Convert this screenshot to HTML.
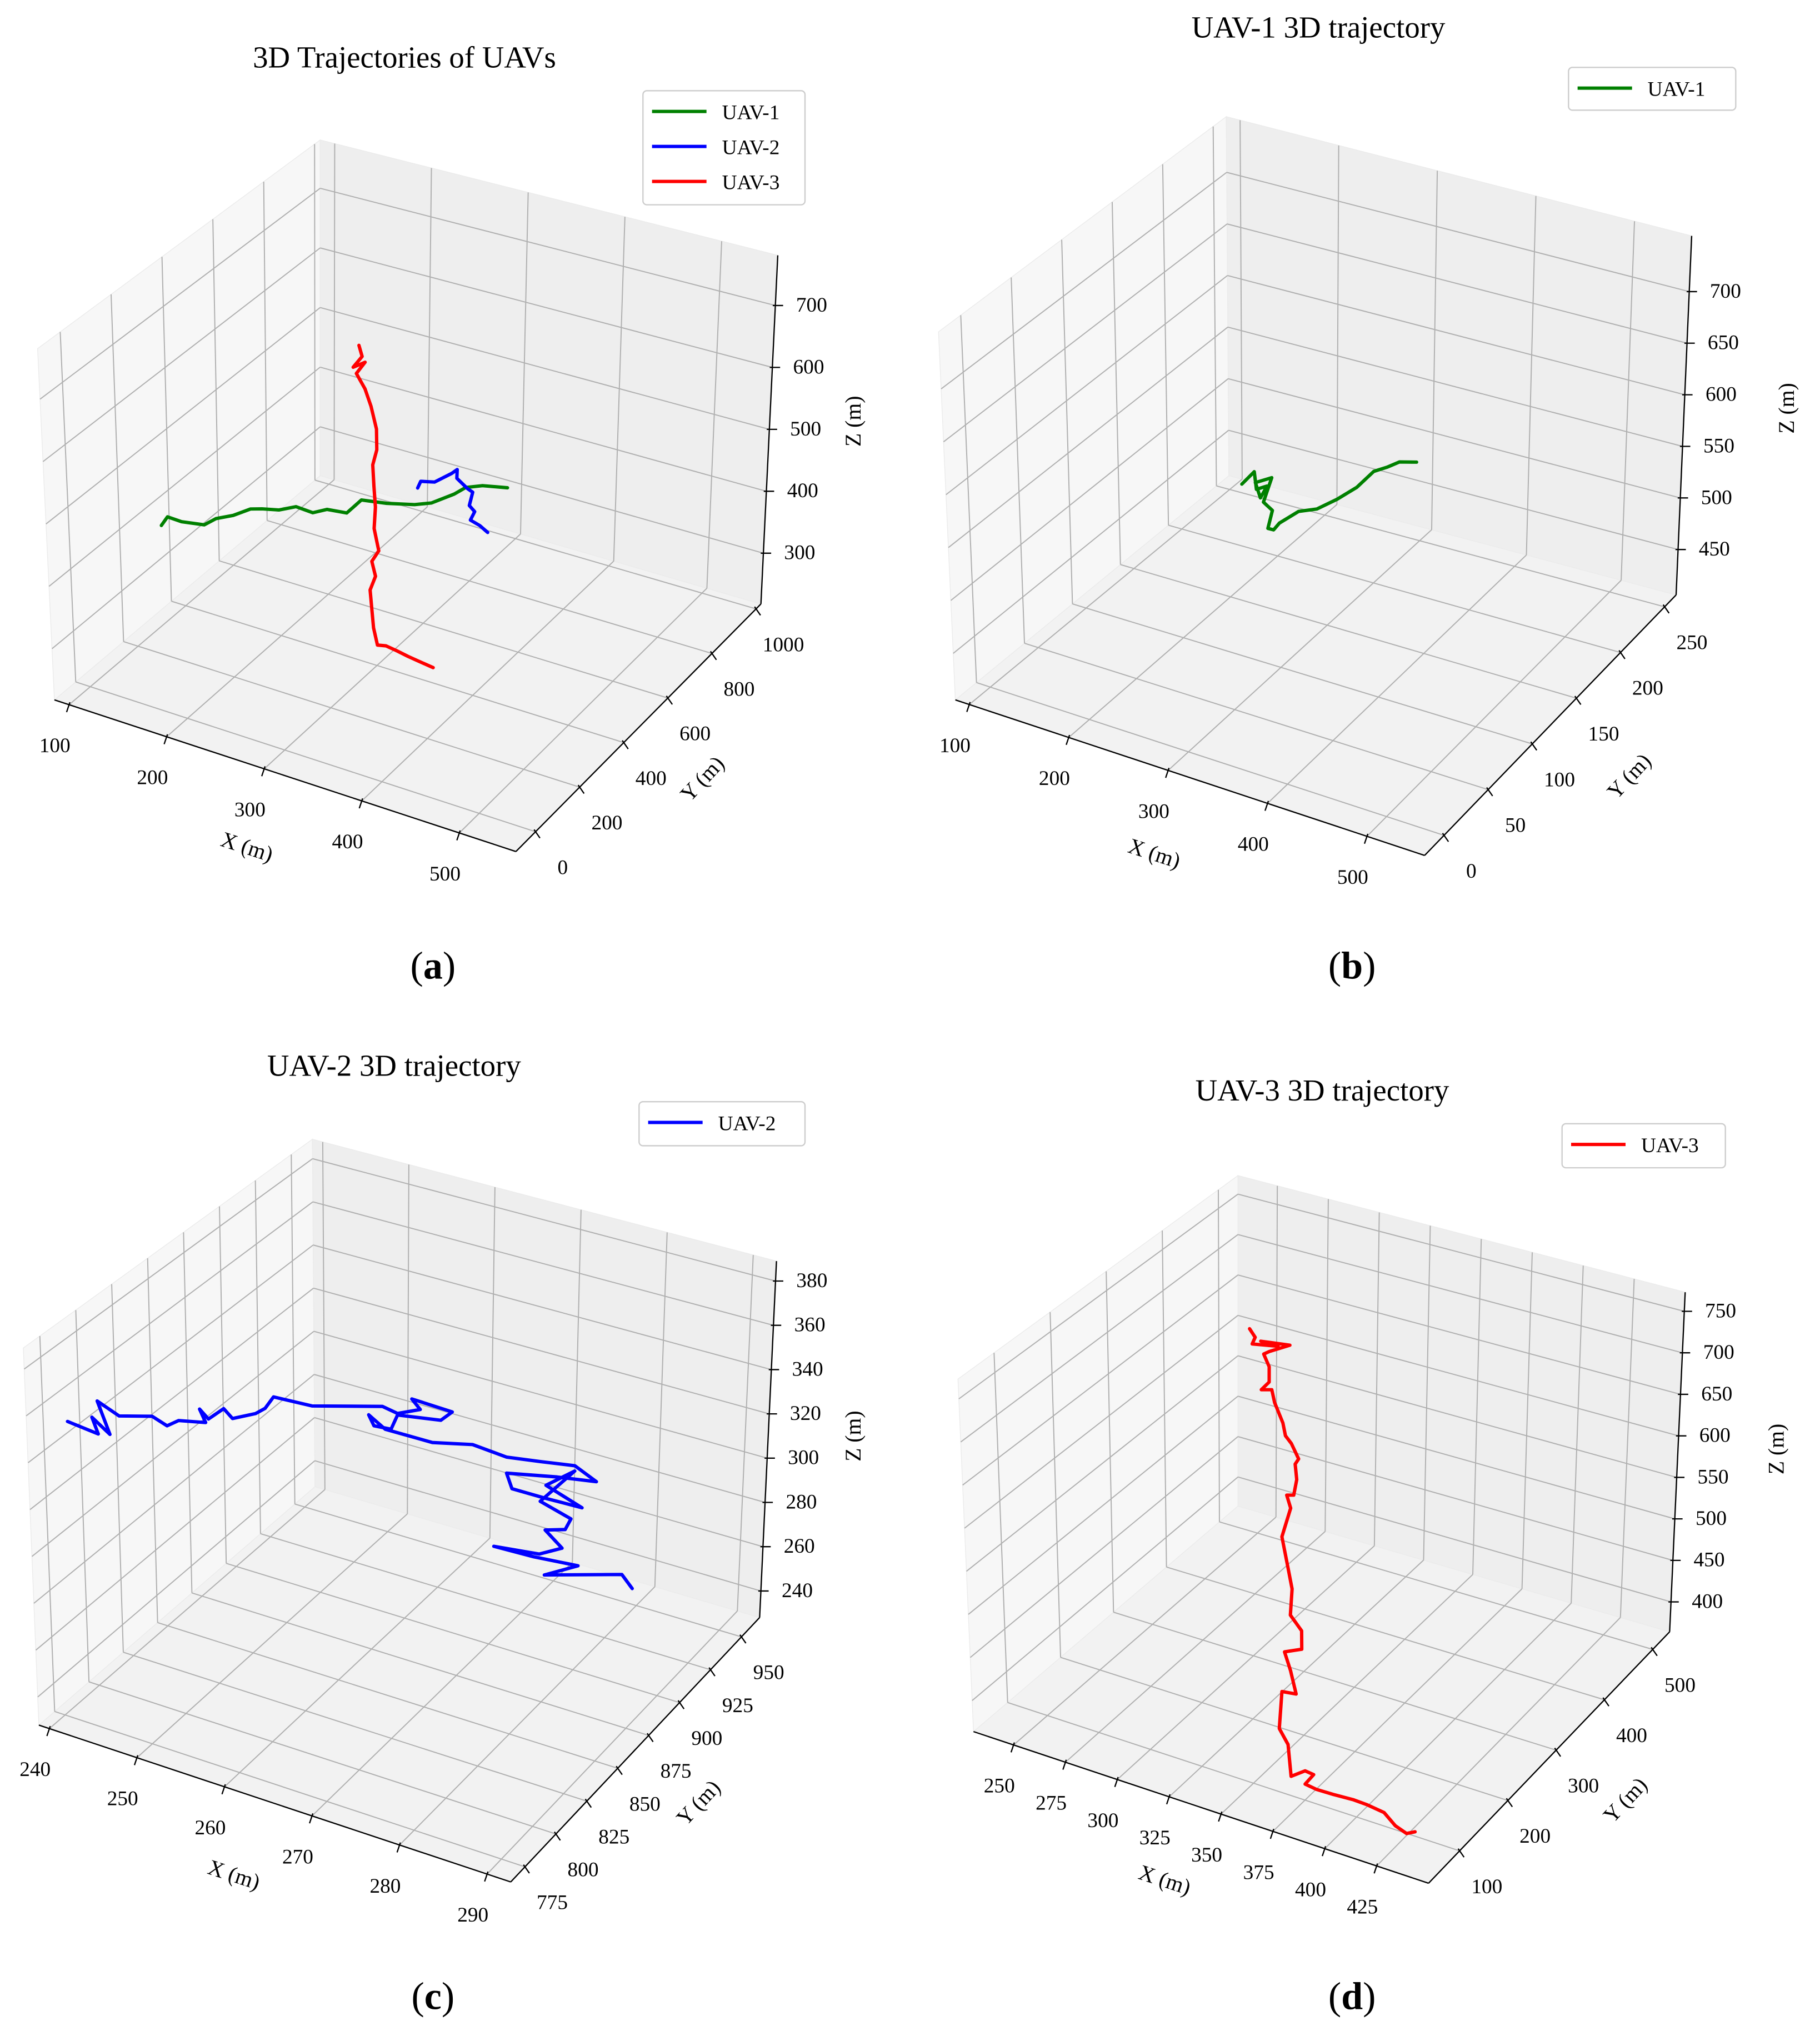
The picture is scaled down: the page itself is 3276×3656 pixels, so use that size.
<!DOCTYPE html>
<html><head><meta charset="utf-8"><title>UAV 3D trajectories</title>
<style>
html,body{margin:0;padding:0;background:#fff;}
svg{display:block;}
text{font-family:"Liberation Serif","DejaVu Serif",serif;fill:#000;}
</style></head>
<body>
<svg id="chart" xmlns="http://www.w3.org/2000/svg" width="3276" height="3656" viewBox="0 0 1404 1567" preserveAspectRatio="none">
<rect x="0" y="0" width="1404" height="1567" fill="#ffffff"/>
</svg>
<script>
// ---------- Panel (a) data: all UAVs ----------
const uav1A_x=[112.5,110.3,123.0,144.5,146.6,157.2,165.6,172.0,187.0,197.6,214.8,223.3,242.7,240.2,263.9,287.3,298.0,308.5,312.8,323.4,345.6];
const uav1A_y=[261.7,295.8,302.8,310.1,350.7,379.3,417.2,439.3,449.5,478.0,478.9,504.3,508.3,579.9,590.5,613.5,642.0,695.6,727.0,755.6,771.7];
const uav1A_z=[400,402,398,401,399,400,402,398,400,401,399,400,402,398,400,401,399,400,402,400,401];
const uav2A_x=[219.8,216.7,227.3,233.7,235.7,242.3,259.6,268.2,276.9,285.6,291.3,303.0,315.0];
const uav2A_y=[899.8,925.3,941.4,988.5,1004.2,976.4,952.3,940.3,890.8,878.8,837.2,829.7,815.3];
const uav2A_z=[300,301,299,300,302,300,299,301,300,298,301,300,299];
const uav3A_x=[276.6,279.5,270.8,282.5,273.8,282.5,288.3,294.0,294.0,290.0,291.1,292.3,291.1,295.8,288.3,292.3,286.6,288.3,290.0,294.0,302.8,314.0,326.0,335.0,352.0];
const uav3A_y=[427,428,426,428,427,427,428,427,428,427,427,428,427,427,428,427,427,428,427,427,427,428,427,427,428];
const uav3A_z=[718,701,680,693,671,650,624,590,556,530,496,462,427,393,372,350,325,290,265,239,242,239,236,234,230];
// ---------- Panel (b) data: UAV-1 ----------
const uav1B_x=[196,199,210,219,217,205,216,225,243,248,250,254,264,276,284,288,290,294,301,313];
const uav1B_y=[167,177,168,170,165,172,178,160,151,141,145,147,157,164,177,194,210,220,226,232];
const uav1B_z=[500,505,498,502,494,500,503,496,500,492,488,494,500,500,501,500,503,500,502,500];
// ---------- Panel (c) data: UAV-2 ----------
const uav2C_x=[238.8,240.9,240.5,241.7,240.9,242.4,244.7,245.7,246.5,248.4,248.0,248.6,249.7,250.3,251.9,252.6,253.2,255.9,260.9,262.0,263.6,263.0,265.9,265.1,262.0,261.5,260.3,259.9,261.1,264.5,267.4,269.9,272.4,274.9,276.5,273.6,269.9,270.3,272.8,275.5,272.8,274.9,272.4,274.7,274.3,272.8,274.1,272.4,269.0,272.0,275.3,272.8,278.6,279.4];
const uav2C_y=[791.6,799.8,798.2,803.0,799.8,805.5,814.4,818.5,821.8,829.1,827.5,829.9,834.0,836.4,842.9,845.4,847.8,858.4,877.9,882.0,888.5,886.1,897.5,894.2,882.0,880.4,875.5,874.2,878.7,891.8,903.2,912.9,922.7,932.5,939.0,927.6,912.9,914.6,924.3,934.9,924.3,932.5,922.7,931.7,930.0,924.3,929.2,922.7,909.7,921.1,934.1,924.3,947.1,950.4];
const uav2C_z=[344.7,338.1,345.6,337.4,352.4,345.1,343.6,338.7,340.4,338.3,344.5,339.7,343.6,338.8,339.7,341.6,346.2,340.1,335.8,331.8,332.0,337.3,328.8,325.9,331.1,325.0,327.7,332.8,325.4,316.5,312.8,304.7,300.1,295.6,286.5,291.8,297.5,290.0,283.1,275.9,289.0,293.2,282.2,271.8,267.5,268.8,259.3,258.4,265.3,257.6,249.9,248.5,242.2,234.8];
// ---------- Panel (d) data: UAV-3 ----------
const uav3D_x=[295.5,298.7,298.6,308.0,301.2,312.0,305.7,304.1,307.8,310.0,308.3,312.0,314.8,320.6,323.3,326.5,331.2,330.7,333.4,334.5,332.0,335.2,336.0,341.9,346.7,349.6,355.7,358.2,352.4,357.0,362.1,356.7,360.6,365.8,371.0,375.3,378.9,377.0,381.8,388.5,396.3,402.1,409.2,415.0,420.1,423.0];
const uav3D_y=[314.3,312.3,307.1,318.8,313.0,325.3,311.6,307.2,303.0,294.4,286.3,291.5,285.8,278.7,272.9,271.5,266.7,262.1,254.4,244.3,240.8,235.6,215.5,202.6,192.0,176.8,174.0,164.0,153.8,146.6,136.7,130.8,109.2,105.0,89.2,99.4,101.7,92.3,95.2,101.1,108.4,112.9,117.4,116.0,117.6,122.8];
const uav3D_z=[745.0,738.1,732.8,730.8,734.9,731.6,726.7,724.7,714.5,702.3,696.2,696.2,686.0,669.7,659.6,653.5,641.3,637.2,625.0,612.8,612.8,602.6,580.2,557.8,539.5,519.2,506.9,492.7,490.7,476.4,458.1,460.1,431.7,419.4,395.0,399.1,396.2,388.9,384.8,380.8,376.7,372.6,366.5,356.3,350.2,351.5];
// ---------- tick values ----------
const ticksA_x=[100,200,300,400,500], ticksA_y=[0,200,400,600,800,1000], ticksA_z=[300,400,500,600,700];
const ticksB_x=[100,200,300,400,500], ticksB_y=[0,50,100,150,200,250], ticksB_z=[450,500,550,600,650,700];
const ticksC_x=[240,250,260,270,280,290], ticksC_y=[775,800,825,850,875,900,925,950], ticksC_z=[240,260,280,300,320,340,360,380];
const ticksD_x=[250,275,300,325,350,375,400,425], ticksD_y=[100,200,300,400,500], ticksD_z=[400,450,500,550,600,650,700,750];
const legendA=["UAV-1","UAV-2","UAV-3"];

const NS="http://www.w3.org/2000/svg";
const root=document.getElementById('chart');
function mk(tag,attrs,parent){const e=document.createElementNS(NS,tag);for(const k in attrs)e.setAttribute(k,attrs[k]);(parent||root).appendChild(e);return e;}

function makeProj(c){
  return function(x,y,z){
    const u=(x-c.xr[0])/(c.xr[1]-c.xr[0]), v=(y-c.yr[0])/(c.yr[1]-c.yr[0]), w=(z-c.zr[0])/(c.zr[1]-c.zr[0]);
    function bil(A,B,C,D){return [A[0]*(1-u)*(1-v)+B[0]*u*(1-v)+C[0]*u*v+D[0]*(1-u)*v, A[1]*(1-u)*(1-v)+B[1]*u*(1-v)+C[1]*u*v+D[1]*(1-u)*v];}
    const b=bil(c.A,c.B,c.C,c.D), t=bil(c.At,c.Bt,c.Ct,c.Dt);
    return [b[0]+(t[0]-b[0])*w, b[1]+(t[1]-b[1])*w];
  };
}
function pts(arr){return arr.map(p=>p[0].toFixed(2)+","+p[1].toFixed(2)).join(" ");}

function drawPanel(c){
  const g=mk('g',{});
  
  
  const P=makeProj(c);
  const [x0,x1]=c.xr,[y0,y1]=c.yr,[z0,z1]=c.zr;
  const bottom=mk('polygon',{points:pts([P(x0,y0,z0),P(x1,y0,z0),P(x1,y1,z0),P(x0,y1,z0)]),fill:'#f2f2f2',stroke:'#ebebeb','stroke-width':0.6},g);
  
  
  const left=mk('polygon',{points:pts([P(x0,y0,z0),P(x0,y1,z0),P(x0,y1,z1),P(x0,y0,z1)]),fill:'#f7f7f7',stroke:'#ebebeb','stroke-width':0.6},g);
  
  
  const back=mk('polygon',{points:pts([P(x0,y1,z0),P(x1,y1,z0),P(x1,y1,z1),P(x0,y1,z1)]),fill:'#eeeeee',stroke:'#ebebeb','stroke-width':0.6},g);
  
  
  const gg=mk('g',{stroke:'#b0b0b0','stroke-width':0.85,fill:'none'},g);
  
  
  function seg(a,b){mk('polyline',{points:pts([a,b])},gg);}
  c.tx.forEach(t=>{seg(P(t,y0,z0),P(t,y1,z0));seg(P(t,y1,z0),P(t,y1,z1));});
  c.ty.forEach(t=>{seg(P(x0,t,z0),P(x1,t,z0));seg(P(x0,t,z0),P(x0,t,z1));});
  c.tz.forEach(t=>{seg(P(x0,y0,t),P(x0,y1,t));seg(P(x0,y1,t),P(x1,y1,t));});
  const ax=mk('g',{stroke:'#000','stroke-width':1,fill:'none'},g);
  
  
  const xl=mk('polyline',{points:pts([P(x0,y0,z0),P(x1,y0,z0)])},ax);
  
  
  const yl=mk('polyline',{points:pts([P(x1,y0,z0),P(x1,y1,z0)])},ax);
  
  
  const zl=mk('polyline',{points:pts([P(x1,y1,z0),P(x1,y1,z1)])},ax);
  
  
  function tick(p,d,label,off,nm){
    mk('polyline',{points:pts([[p[0]-d[0]*2,p[1]-d[1]*2],[p[0]+d[0]*6,p[1]+d[1]*6]]),stroke:'#000','stroke-width':1},ax);
    const t=mk('text',{x:(p[0]+off[0]).toFixed(1),y:(p[1]+off[1]).toFixed(1),'font-size':16,'text-anchor':'middle','dominant-baseline':'middle'},g);
    t.textContent=label;
    
    
  }
  c.tx.forEach(t=>tick(P(t,y0,z0),[-0.32,0.95],String(t),[-11,33],'x-tick-label'));
  c.ty.forEach(t=>tick(P(x1,t,z0),[0.57,0.82],String(t),[21,29],'y-tick-label'));
  c.tz.forEach(t=>tick(P(x1,y1,t),[1,0],String(t),[28,1],'z-tick-label'));
  c.alabels.forEach(a=>{
    const t=mk('text',{x:a.x,y:a.y,'font-size':17,'text-anchor':'middle','dominant-baseline':'middle',transform:'rotate('+a.r+' '+a.x+' '+a.y+')'},g);
    t.textContent=a.t;
    
    
  });
  c.series.forEach(s=>{
    const p=s.x.map((xv,i)=>P(xv,s.y[i],s.z[i]));
    const l=mk('polyline',{points:pts(p),fill:'none',stroke:s.col,'stroke-width':2.6,'stroke-linejoin':'round','stroke-linecap':'round'},g);
    
    
  });
  const ti=mk('text',{x:c.title[1],y:c.title[2],'font-size':23.5,'text-anchor':'middle'},g);
  ti.textContent=c.title[0];
  
  
  const L=c.legend;
  const lg=mk('g',{},g);
  
  
  mk('rect',{x:L.x,y:L.y,width:L.w,height:L.h,rx:3,fill:'#fff',stroke:'#cccccc','stroke-width':1},lg);
  L.items.forEach((it,i)=>{
    const yy=L.y+16+i*27;
    const e=mk('g',{},lg);
    
    
    mk('line',{x1:L.x+7,x2:L.x+49,y1:yy,y2:yy,stroke:it[1],'stroke-width':2.6},e);
    const t=mk('text',{x:L.x+61,y:yy+6,'font-size':16},e);
    t.textContent=it[0];
  });
  const sl=mk('text',{x:c.sub[1],y:c.sub[2],'font-size':30,'text-anchor':'middle'},g);
  
  
  const s1=mk('tspan',{},sl); s1.textContent='(';
  const s2=mk('tspan',{'font-weight':'bold'},sl); s2.textContent=c.sub[0];
  const s3=mk('tspan',{},sl); s3.textContent=')';
}

drawPanel({name:'panel-a-all-uavs',xr:[85,558],yr:[-89,1022],zr:[218,781],
  A:[42,540],B:[398,657],C:[587,466],D:[247,367],At:[29,269],Bt:[398,387],Ct:[600,197],Dt:[247,108],
  tx:ticksA_x,ty:ticksA_y,tz:ticksA_z,
  alabels:[{t:'X (m)',x:190,y:655,r:18,n:'x-axis-title'},{t:'Y (m)',x:543,y:602,r:-47,n:'y-axis-title'},{t:'Z (m)',x:660,y:325,r:-90,n:'z-axis-title'}],
  series:[{x:uav1A_x,y:uav1A_y,z:uav1A_z,col:'#008000',n:'uav1-line'},{x:uav2A_x,y:uav2A_y,z:uav2A_z,col:'#0000ff',n:'uav2-line'},{x:uav3A_x,y:uav3A_y,z:uav3A_z,col:'#ff0000',n:'uav3-line'}],
  title:['3D Trajectories of UAVs',312,52],
  legend:{x:496,y:70,w:125,h:88,items:[[legendA[0],'#008000'],[legendA[1],'#0000ff'],[legendA[2],'#ff0000']]},
  sub:['a',334,755]});
drawPanel({name:'panel-b-uav1',xr:[86,558],yr:[-22,263],zr:[406,754],
  A:[737,540],B:[1099,660],C:[1293,459],D:[948,367],At:[724,256],Bt:[1099,380],Ct:[1305,182],Dt:[946,90],
  tx:ticksB_x,ty:ticksB_y,tz:ticksB_z,
  alabels:[{t:'X (m)',x:890,y:660,r:18,n:'x-axis-title'},{t:'Y (m)',x:1258,y:600,r:-47,n:'y-axis-title'},{t:'Z (m)',x:1380,y:315,r:-90,n:'z-axis-title'}],
  series:[{x:uav1B_x,y:uav1B_y,z:uav1B_z,col:'#008000',n:'uav1-line'}],
  title:['UAV-1 3D trajectory',1017,29],
  legend:{x:1210,y:52,w:129,h:33,items:[[legendA[0],'#008000']]},
  sub:['b',1043,755]});
drawPanel({name:'panel-c-uav2',xr:[238.8,292.7],yr:[763.5,964.7],zr:[228,389],
  A:[30,1331],B:[394,1452],C:[586,1248],D:[243,1147],At:[18,1040],Bt:[394,1169],Ct:[599,973],Dt:[241,879],
  tx:ticksC_x,ty:ticksC_y,tz:ticksC_z,
  alabels:[{t:'X (m)',x:180,y:1448,r:18,n:'x-axis-title'},{t:'Y (m)',x:540,y:1392,r:-47,n:'y-axis-title'},{t:'Z (m)',x:660,y:1108,r:-90,n:'z-axis-title'}],
  series:[{x:uav2C_x,y:uav2C_y,z:uav2C_z,col:'#0000ff',n:'uav2-line'}],
  title:['UAV-2 3D trajectory',304,830],
  legend:{x:493,y:850,w:128,h:34,items:[[legendA[1],'#0000ff']]},
  sub:['c',334,1550]});
drawPanel({name:'panel-d-uav3',xr:[230.7,450],yr:[35.6,535],zr:[364,773],
  A:[751,1336],B:[1102,1453],C:[1288,1259],D:[955,1162],At:[739,1064],Bt:[1102,1186],Ct:[1300,997],Dt:[955,907],
  tx:ticksD_x,ty:ticksD_y,tz:ticksD_z,
  alabels:[{t:'X (m)',x:898,y:1452,r:18,n:'x-axis-title'},{t:'Y (m)',x:1255,y:1390,r:-47,n:'y-axis-title'},{t:'Z (m)',x:1372,y:1118,r:-90,n:'z-axis-title'}],
  series:[{x:uav3D_x,y:uav3D_y,z:uav3D_z,col:'#ff0000',n:'uav3-line'}],
  title:['UAV-3 3D trajectory',1020,849],
  legend:{x:1205,y:867,w:126,h:34,items:[[legendA[2],'#ff0000']]},
  sub:['d',1043,1550]});
</script>
</body></html>
